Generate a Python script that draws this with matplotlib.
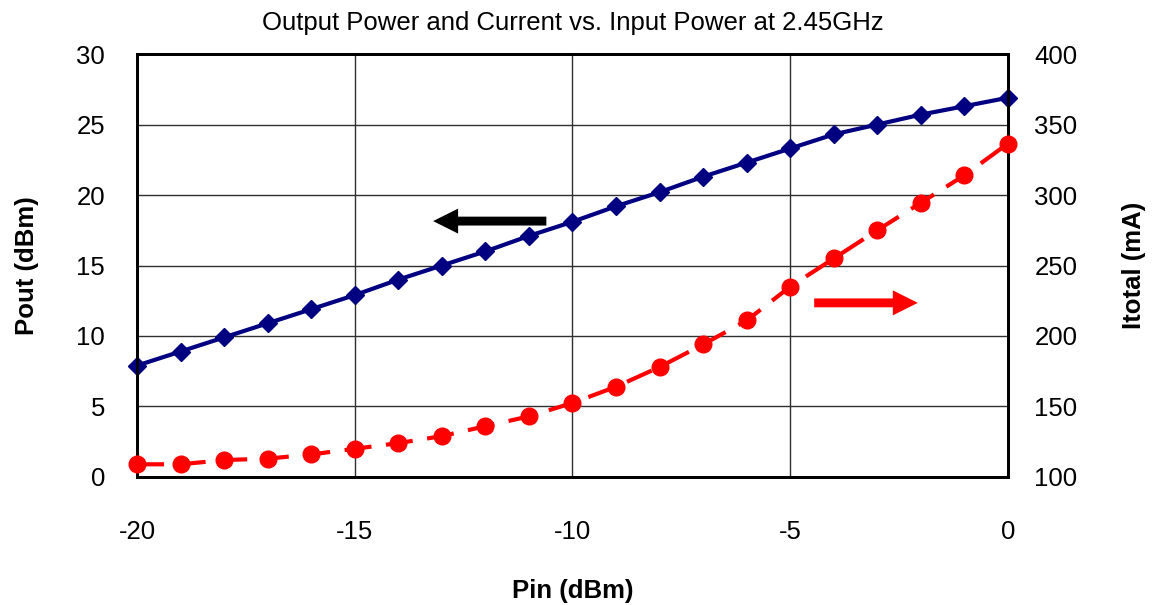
import matplotlib
matplotlib.use("Agg")
import matplotlib.pyplot as plt

pin = [-20, -19, -18, -17, -16, -15, -14, -13, -12, -11, -10,
       -9, -8, -7, -6, -5, -4, -3, -2, -1, 0]
pout = [7.9, 8.9, 9.9, 10.9, 11.9, 12.9, 14.0, 15.0, 16.0, 17.1, 18.1,
        19.2, 20.2, 21.3, 22.3, 23.3, 24.3, 25.0, 25.7, 26.3, 26.9]
itotal = [109, 109, 112, 113, 116, 120, 124, 129, 136, 143, 152.5,
          164, 178, 194, 211, 235, 255, 275, 294.5, 314, 336.5]

x_ticks = [-20, -15, -10, -5, 0]
left_ticks = [0, 5, 10, 15, 20, 25, 30]
right_ticks = [100, 150, 200, 250, 300, 350, 400]

plt.rcParams['font.family'] = ['Liberation Sans', 'DejaVu Sans']
plt.rcParams['axes.unicode_minus'] = False

fig = plt.figure(figsize=(11.55, 6.05), dpi=100)
ax = fig.add_axes([0.1186, 0.2116, 0.7541, 0.6991])
ax2 = ax.twinx()

ax.set_xlim(-20, 0)
ax.set_ylim(0, 30)
ax2.set_ylim(100, 400)
ax.set_xticks(x_ticks)
ax.set_yticks(left_ticks)
ax2.set_yticks(right_ticks)

ax.grid(True, color='#303030', lw=1.0)
ax.set_axisbelow(True)

ax.plot(pin, pout, color='#000080', lw=3, marker='D', ms=9.5, zorder=3, clip_on=False)
ax2.plot(pin, itotal, color='#FF0000', lw=3, ls=(0, (6.5, 3.5)), marker='o', ms=12,
         zorder=3, clip_on=False)

fs = 18.5
ax.tick_params(axis='both', labelsize=fs, direction='in', length=0)
ax.tick_params(axis='x', pad=31)
ax.tick_params(axis='y', pad=23)
ax2.tick_params(axis='y', labelsize=fs, direction='in', length=0, pad=19)

for a in (ax, ax2):
    for s in a.spines.values():
        s.set_linewidth(2)
        s.set_color('black')

ax.set_xlabel('Pin (dBm)', fontsize=fs, fontweight='bold', labelpad=25)
ax.set_ylabel('Pout (dBm)', fontsize=fs, fontweight='bold', labelpad=27)
ax2.set_ylabel('Itotal (mA)', fontsize=fs, fontweight='bold', labelpad=32)
ax.set_title('Output Power and Current vs. Input Power at 2.45GHz', fontsize=fs, pad=17)

arrow_style = 'simple,head_length=0.9,head_width=0.9,tail_width=0.32'
ax.annotate('', xy=(-13.2, 18.15), xytext=(-10.6, 18.15),
            arrowprops=dict(arrowstyle=arrow_style, color='black', lw=0, mutation_scale=20,
                            shrinkA=0, shrinkB=0))
ax.annotate('', xy=(-2.07, 12.35), xytext=(-4.45, 12.35),
            arrowprops=dict(arrowstyle=arrow_style, color='#FF0000', lw=0, mutation_scale=20,
                            shrinkA=0, shrinkB=0))

fig.savefig('out.png', dpi=100)
